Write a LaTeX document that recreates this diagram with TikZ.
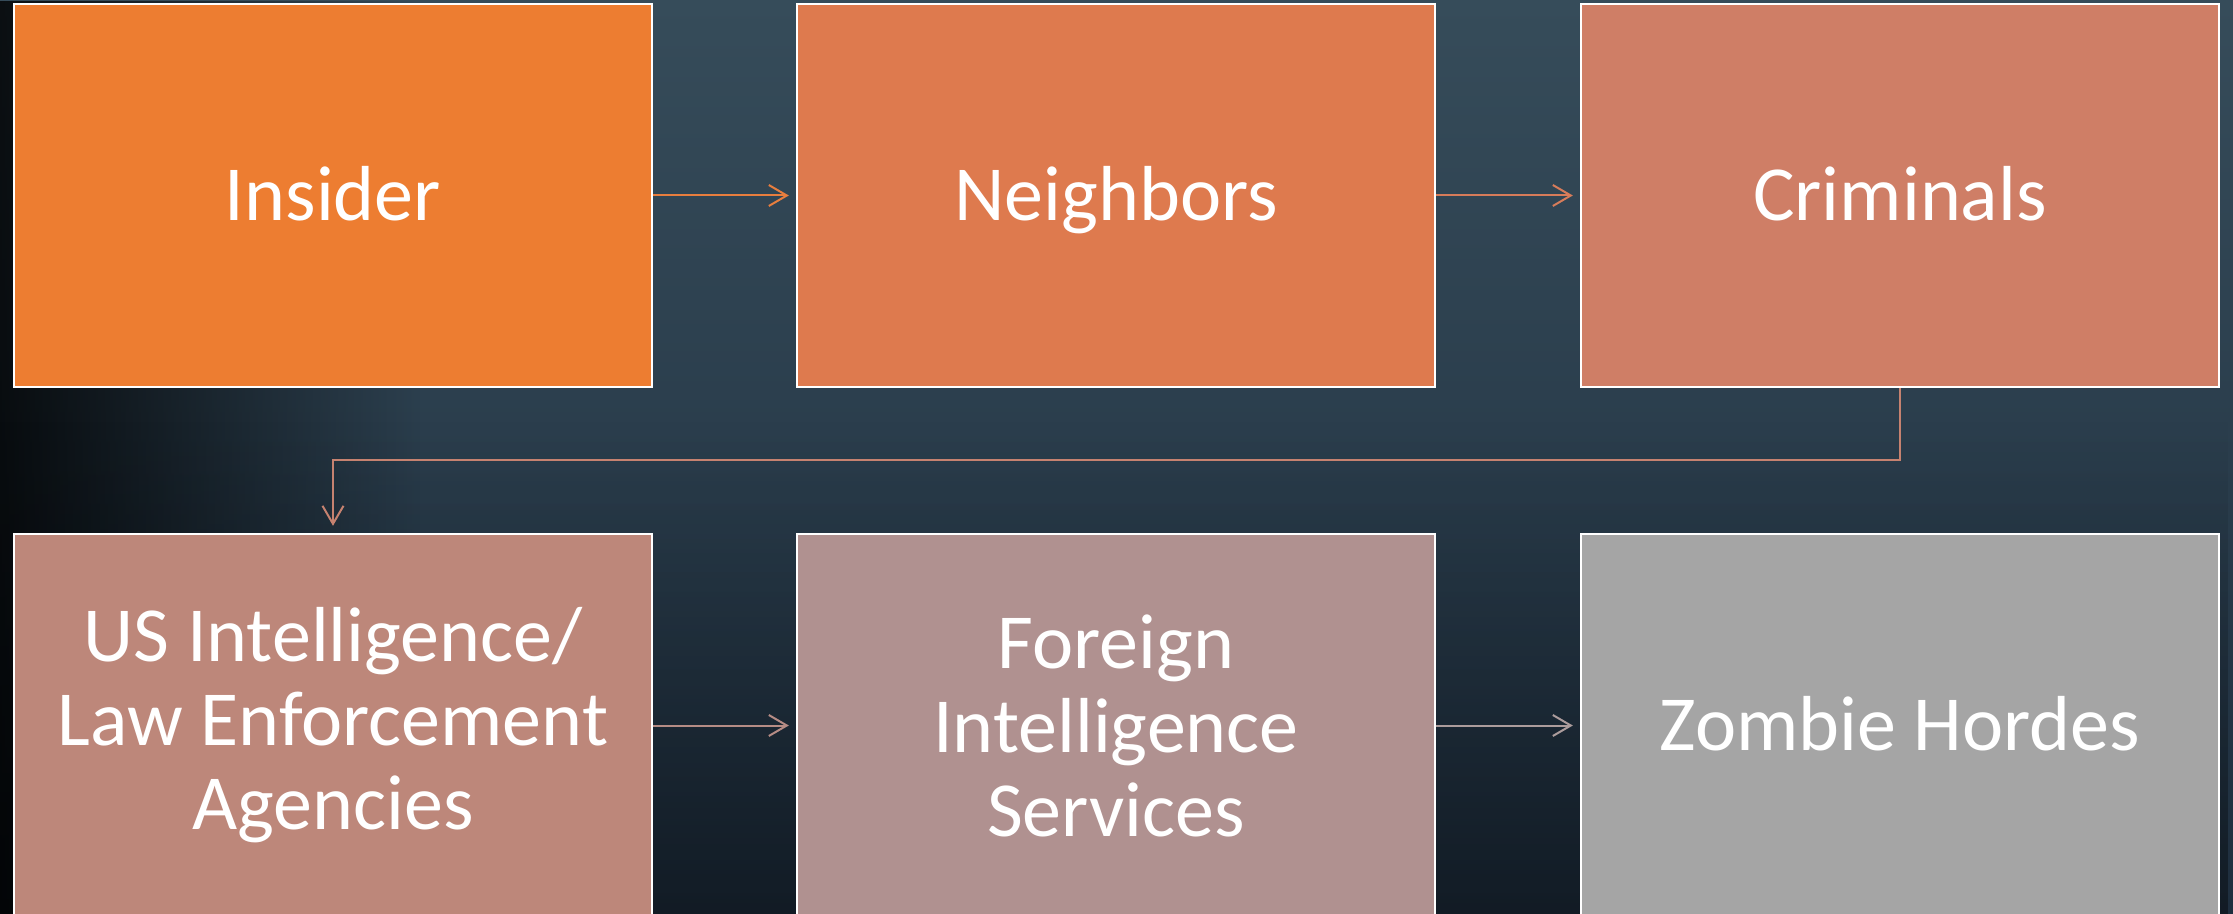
\documentclass[tikz,border=0pt]{standalone}
\usepackage{fontspec}
\setmainfont{Carlito}
\usetikzlibrary{arrows.meta,fadings,calc}
\definecolor{bgtop}{RGB}{54,76,90}
\definecolor{bgbot}{RGB}{30,46,62}
\definecolor{cA}{RGB}{237,125,49}
\definecolor{cB}{RGB}{222,122,78}
\definecolor{cC}{RGB}{207,126,102}
\definecolor{cD}{RGB}{189,135,122}
\definecolor{cE}{RGB}{176,145,144}
\definecolor{cF}{RGB}{165,165,165}
\definecolor{aAB}{RGB}{232,126,62}
\definecolor{aBC}{RGB}{215,124,90}
\definecolor{aCD}{RGB}{198,130,112}
\definecolor{aDE}{RGB}{182,140,133}
\definecolor{aEF}{RGB}{172,156,156}
\newcommand{\boxstrut}{\rule[-2pt]{0pt}{27pt}}
\tikzset{
  box/.style={draw=white, line width=1.2pt, minimum width=319pt, minimum height=191.5pt,
    inner sep=0pt, text=white, align=center, font=\fontsize{39}{42}\selectfont},
  oneline/.style={text height=27pt, text depth=2pt},
  conn/.style={line width=1pt, -{Straight Barb[length=9pt,width=10.5pt,line width=1pt]}, shorten >=3.5pt}
}
\begin{document}
\begin{tikzpicture}[x=0.5pt,y=-0.5pt]
\useasboundingbox (0,0) rectangle (2233,914);
\shade[top color=bgtop, bottom color=bgbot] (0,0) rectangle (2233,914);
\fill[black, path fading=east, opacity=0.8] (0,0) rectangle (420,914);
\fill[black, path fading=north, opacity=0.4] (0,420) rectangle (2233,914);
\node[box, oneline, fill=cA] (ins) at (333,195.5) {Insider};
\node[box, oneline, fill=cB] (nei) at (1116,195.5) {Neighbors};
\node[box, oneline, fill=cC] (cri) at (1900,195.5) {Criminals};
\node[box, fill=cD] (usi) at (333,725.5) {US Intelligence/\\Law Enforcement\\Agencies};
\node[box, fill=cE] (for) at (1116,725.5) {Foreign\\Intelligence\\Services};
\node[box, oneline, fill=cF] (zom) at (1900,725.5) {Zombie Hordes};
\draw[conn, aAB] (ins.east) -- (nei.west);
\draw[conn, aBC] (nei.east) -- (cri.west);
\draw[conn, aCD] (cri.south) |- ($(cri.south)!.5!(usi.north)$) -| (usi.north);
\draw[conn, aDE] (usi.east) -- (for.west);
\draw[conn, aEF] (for.east) -- (zom.west);
\end{tikzpicture}
\end{document}
